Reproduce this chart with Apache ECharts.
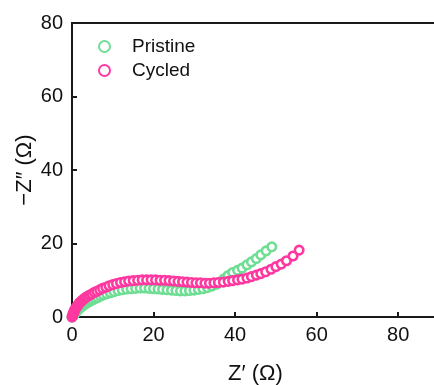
<!DOCTYPE html>
<html>
<head>
<meta charset="utf-8">
<script src="https://cdn.jsdelivr.net/npm/echarts@6/dist/echarts.min.js"></script>
<style>
  html, body { margin: 0; padding: 0; background: #fff; }
  #chart { width: 434px; height: 385px; }
</style>
</head>
<body>
<div id="chart"></div>
<script>
// Nyquist plot: impedance spectra before and after cycling
const seriesNames = ['Pristine', 'Cycled'];
const xTicks = [0, 20, 40, 60, 80];
const yTicks = [0, 20, 40, 60, 80];

// Z' (Ω) and -Z'' (Ω) of the pristine cell
const pristineZre = [0.0, 0.2, 0.4, 0.6, 0.8, 1.0, 1.2, 1.5, 1.8, 2.1, 2.4, 2.8, 3.2, 3.6, 4.1, 4.6, 5.1, 5.7, 6.3, 7.0,
  7.7, 8.5, 9.4, 10.3, 11.3, 12.3, 13.4, 14.5, 15.6, 16.7, 17.8, 18.9, 20.0, 21.1, 22.2, 23.3, 24.4, 25.5, 26.6, 27.7,
  28.8, 29.9, 31.0, 32.1, 33.2, 34.3, 35.4, 36.4, 37.3, 38.3, 39.4, 40.6, 41.7, 42.9, 44.0, 45.2, 46.3, 47.6, 49.0];
const pristineZim = [0.0, 0.2, 0.5, 0.8, 1.1, 1.4, 1.7, 2.0, 2.3, 2.6, 2.9, 3.2, 3.5, 3.8, 4.1, 4.4, 4.7, 5.0, 5.3, 5.7,
  6.0, 6.3, 6.6, 6.9, 7.2, 7.4, 7.6, 7.7, 7.8, 7.9, 7.9, 7.8, 7.7, 7.6, 7.5, 7.4, 7.3, 7.2, 7.1, 7.1,
  7.2, 7.3, 7.5, 7.7, 8.0, 8.4, 8.9, 9.6, 10.4, 11.3, 12.1, 12.7, 13.3, 14.2, 15.0, 15.9, 16.9, 18.0, 19.1];

// Z' (Ω) and -Z'' (Ω) after cycling
const cycledZre = [0.0, 0.1, 0.2, 0.3, 0.4, 0.5, 0.6, 0.8, 0.9, 1.1, 1.3, 1.5, 1.7, 1.9, 2.2, 2.5, 2.8, 3.1, 3.5, 3.9,
  4.4, 4.9, 5.5, 6.1, 6.8, 7.5, 8.3, 9.1, 10.0, 10.9, 11.9, 12.9, 13.9, 15.0, 16.1, 17.2, 18.3, 19.4, 20.5, 21.6,
  22.7, 23.8, 24.9, 26.0, 27.1, 28.2, 29.3, 30.4, 31.5, 32.6, 33.7, 34.8, 35.9, 37.1, 38.3, 39.4, 40.6, 41.7, 42.9, 44.0,
  45.2, 46.3, 47.5, 48.8, 50.0, 51.3, 52.6, 54.2, 55.7];
const cycledZim = [0.0, 0.3, 0.6, 0.9, 1.2, 1.5, 1.8, 2.1, 2.4, 2.7, 3.0, 3.3, 3.6, 3.9, 4.2, 4.5, 4.8, 5.1, 5.4, 5.7,
  6.0, 6.3, 6.7, 7.0, 7.4, 7.8, 8.1, 8.5, 8.8, 9.1, 9.4, 9.6, 9.8, 9.9, 10.0, 10.1, 10.1, 10.1, 10.1, 10.0,
  10.0, 9.9, 9.8, 9.7, 9.6, 9.5, 9.4, 9.3, 9.3, 9.2, 9.2, 9.3, 9.4, 9.5, 9.7, 9.9, 10.1, 10.3, 10.6, 11.0,
  11.4, 11.8, 12.3, 13.0, 13.7, 14.4, 15.3, 16.6, 18.2];

const colors = ['#6fdd94', '#ff38a0'];
const font = "'Liberation Sans', Arial, sans-serif";
const axisColor = '#1a1a1a';

const zip = (xs, ys) => xs.map((x, i) => [x, ys[i]]);

const chart = echarts.init(document.getElementById('chart'), null, { renderer: 'canvas' });

const axisCommon = {
  min: 0,
  interval: 20,
  nameMoveOverlap: false,
  axisLine: { show: true, lineStyle: { color: axisColor, width: 2 } },
  axisTick: { show: true, inside: true, length: 5, lineStyle: { color: axisColor, width: 2 } },
  splitLine: { show: false },
  axisLabel: { color: '#111', fontSize: 20, fontFamily: font },
  nameTextStyle: { color: '#111', fontSize: 22, fontFamily: font }
};

chart.setOption({
  animation: false,
  backgroundColor: '#fff',
  grid: {
    left: 72, top: 23, width: 367, height: 294,
    outerBoundsMode: 'none',
    containLabel: false,
    show: true, borderColor: axisColor, borderWidth: 2, backgroundColor: 'transparent'
  },
  legend: {
    data: seriesNames.map(n => ({ name: n, icon: 'circle' })),
    orient: 'vertical',
    left: 93,
    top: 32,
    itemWidth: 11,
    itemHeight: 11,
    itemGap: 5,
    textStyle: { color: '#111', fontSize: 19, fontFamily: font, padding: [0, 0, 0, 17] }
  },
  xAxis: Object.assign({}, axisCommon, {
    type: 'value',
    max: 90,
    name: 'Z\u2032 (\u03A9)',
    nameLocation: 'middle',
    nameGap: 46,
    axisLabel: Object.assign({}, axisCommon.axisLabel, {
      margin: 8,
      formatter: v => (xTicks.includes(v) ? String(v) : '')
    })
  }),
  yAxis: Object.assign({}, axisCommon, {
    type: 'value',
    max: 80,
    name: '\u2212Z\u2033 (\u03A9)',
    nameLocation: 'middle',
    nameGap: 36,
    axisLabel: Object.assign({}, axisCommon.axisLabel, {
      margin: 9,
      formatter: v => (yTicks.includes(v) ? String(v) : '')
    })
  }),
  // hollow rings: white fill with a thick coloured outline
  series: [
    { name: seriesNames[0], data: zip(pristineZre, pristineZim), color: colors[0] },
    { name: seriesNames[1], data: zip(cycledZre, cycledZim), color: colors[1] }
  ].map(s => ({
    type: 'scatter',
    name: s.name,
    data: s.data,
    symbol: 'circle',
    symbolSize: 8.5,
    itemStyle: { color: '#fff', borderColor: s.color, borderWidth: 2.6, opacity: 1 }
  }))
});
</script>
</body>
</html>
